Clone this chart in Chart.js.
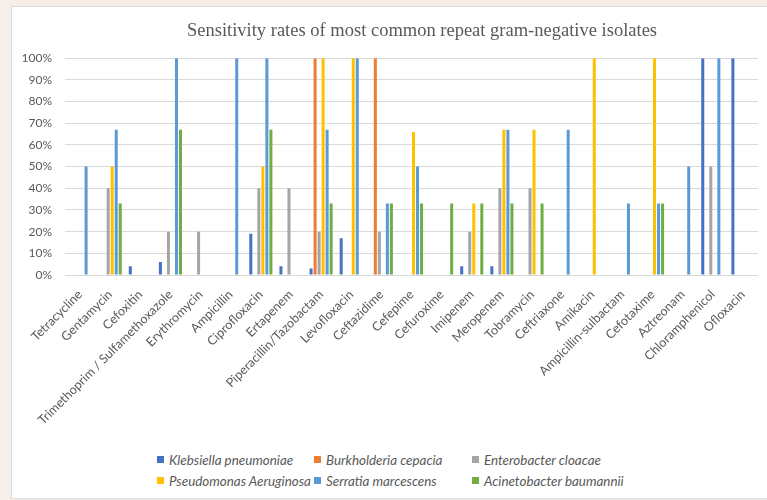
<!DOCTYPE html>
<html>
<head>
<meta charset="utf-8">
<script src="https://cdn.jsdelivr.net/npm/chart.js@4/dist/chart.umd.min.js"></script>
<style>
  html, body { margin: 0; padding: 0; }
  body { width: 767px; height: 500px; overflow: hidden; background: #f6eee9; position: relative; font-family: Lato, "Liberation Sans", sans-serif; }
  #frame { position: absolute; left: 11px; top: 6px; width: 820px; height: 491px; background: #ffffff; border: 1px solid #dcdcdc; }
  #chart { position: absolute; left: 0; top: 0; }
  #legend { position: absolute; left: 157px; top: 449px; display: grid; grid-template-columns: 157px 158px auto; grid-auto-rows: 21px; }
  .item { display: flex; align-items: center; white-space: nowrap; font-style: italic; font-size: 13.4px; color: #595959; }
  .swatch { width: 7px; height: 7px; margin-right: 5px; flex: none; }
</style>
</head>
<body>
<div id="frame"></div>
<canvas id="chart" width="844" height="445"></canvas>
<div id="legend"></div>
<script>
const antibiotics = [
  'Tetracycline', 'Gentamycin', 'Cefoxitin', 'Trimethoprim / Sulfamethoxazole', 'Erythromycin',
  'Ampicillin', 'Ciprofloxacin', 'Ertapenem', 'Piperacillin/Tazobactam', 'Levofloxacin',
  'Ceftazidime', 'Cefepime', 'Cefuroxime', 'Imipenem', 'Meropenem', 'Tobramycin',
  'Ceftriaxone', 'Amikacin', 'Ampicillin-sulbactam', 'Cefotaxime', 'Aztreonam',
  'Chloramphenicol', 'Ofloxacin'
];

// Sensitivity rate (%) per antibiotic, one array per organism
const klebsiella    = [0, 0, 4, 6, 0, 0, 19, 4, 3, 17, 0, 0, 0, 4, 4, 0, 0, 0, 0, 0, 0, 100, 100];
const burkholderia  = [0, 0, 0, 0, 0, 0, 0, 0, 100, 0, 100, 0, 0, 0, 0, 0, 0, 0, 0, 0, 0, 0, 0];
const enterobacter  = [0, 40, 0, 20, 20, 0, 40, 40, 20, 0, 20, 0, 0, 20, 40, 40, 0, 0, 0, 0, 0, 50, 0];
const pseudomonas   = [0, 50, 0, 0, 0, 0, 50, 0, 100, 100, 0, 66, 0, 33, 67, 67, 0, 100, 0, 100, 0, 0, 0];
const serratia      = [50, 67, 0, 100, 0, 100, 100, 0, 67, 100, 33, 50, 0, 0, 67, 0, 67, 0, 33, 33, 50, 100, 0];
const acinetobacter = [0, 33, 0, 67, 0, 0, 67, 0, 33, 0, 33, 33, 33, 33, 33, 33, 0, 0, 0, 33, 0, 0, 0];

const organisms = [
  'Klebsiella pneumoniae', 'Burkholderia cepacia', 'Enterobacter cloacae',
  'Pseudomonas Aeruginosa', 'Serratia marcescens', 'Acinetobacter baumannii'
];
const organismColors = ['#4472C4', '#ED7D31', '#A5A5A5', '#FFC000', '#5B9BD5', '#70AD47'];
const seriesValues = [klebsiella, burkholderia, enterobacter, pseudomonas, serratia, acinetobacter];

const yTicks = [0, 10, 20, 30, 40, 50, 60, 70, 80, 90, 100];
const chartTitle = 'Sensitivity rates of most common repeat gram-negative isolates';

const textColor = '#595959';
const gridColor = '#d9d9d9';

const datasets = organisms.map((name, i) => ({
  label: name,
  data: seriesValues[i],
  backgroundColor: organismColors[i],
  borderWidth: 0,
  categoryPercentage: 0.8,
  barPercentage: 0.75
}));

new Chart(document.getElementById('chart'), {
  type: 'bar',
  data: { labels: antibiotics, datasets },
  options: {
    responsive: false,
    devicePixelRatio: 1,
    animation: false,
    layout: { padding: 0 },
    plugins: {
      legend: { display: false },
      tooltip: { enabled: false },
      title: {
        display: true,
        text: chartTitle,
        color: textColor,
        font: { family: '"Liberation Serif", serif', size: 18.5, weight: 'normal' },
        padding: { top: 20, bottom: 16 }
      }
    },
    scales: {
      x: {
        grid: { display: false },
        border: { display: false },
        ticks: {
          color: textColor,
          font: { family: 'Lato', size: 12.6 },
          minRotation: 45,
          maxRotation: 45,
          autoSkip: false,
          padding: 4
        },
        afterFit: (scale) => { scale.height = 170; }
      },
      y: {
        min: 0,
        max: 100,
        afterBuildTicks: (scale) => { scale.ticks = yTicks.map(v => ({ value: v })); },
        grid: { color: gridColor, lineWidth: 1, drawTicks: false },
        border: { display: false },
        ticks: {
          color: textColor,
          font: { family: 'Lato', size: 12 },
          padding: 13,
          callback: (v) => v + '%'
        },
        afterFit: (scale) => { scale.width = 65; }
      },
      // empty right-hand margin of the plot frame
      margin: {
        type: 'linear',
        position: 'right',
        grid: { display: false },
        border: { display: false },
        ticks: { display: false },
        afterFit: (scale) => { scale.width = 86; }
      }
    }
  }
});

// Legend laid out in three columns, two rows
const legendBox = document.getElementById('legend');
organisms.forEach((name, i) => {
  const item = document.createElement('div');
  item.className = 'item';
  const sw = document.createElement('span');
  sw.className = 'swatch';
  sw.style.background = organismColors[i];
  const txt = document.createElement('span');
  txt.textContent = name;
  item.appendChild(sw);
  item.appendChild(txt);
  legendBox.appendChild(item);
});
</script>
</body>
</html>
